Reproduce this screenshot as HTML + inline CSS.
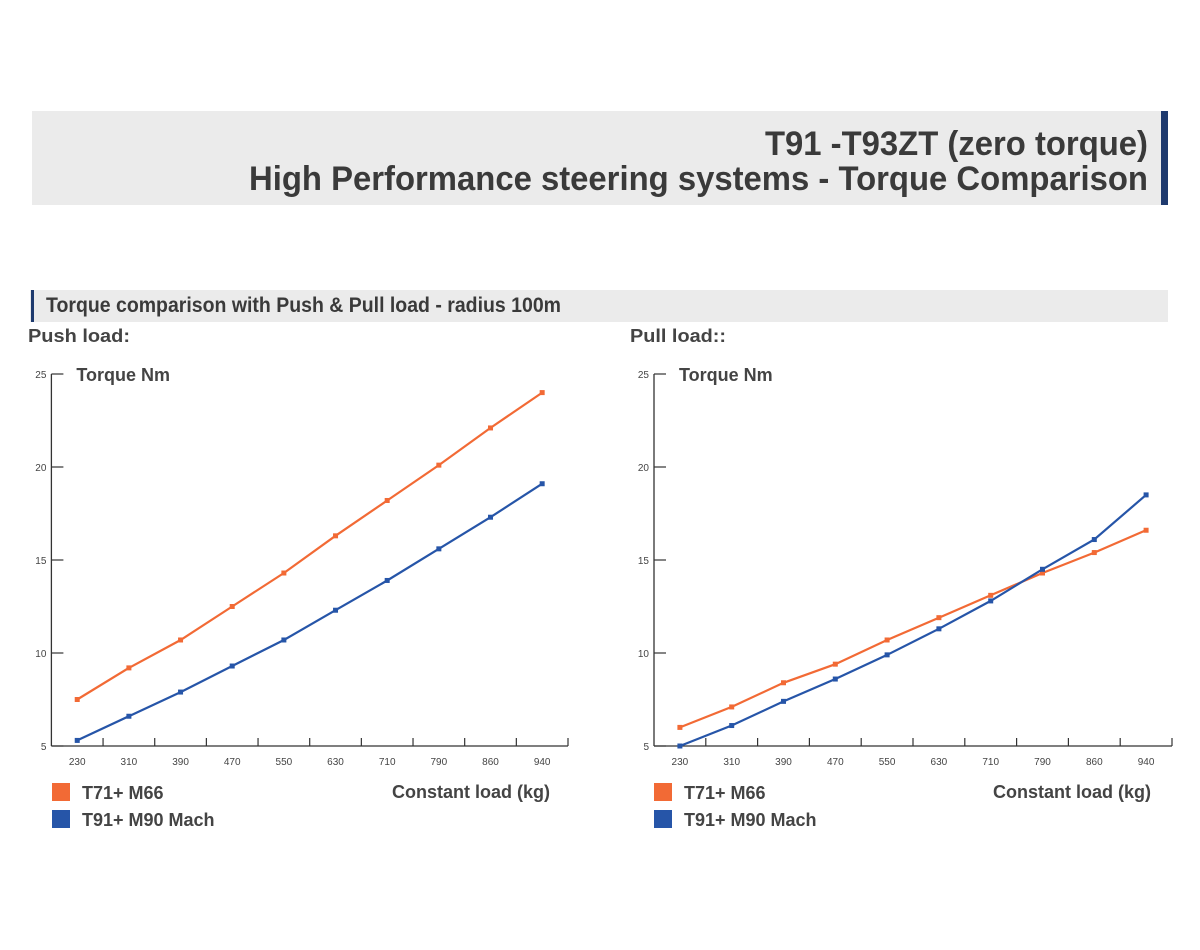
<!DOCTYPE html>
<html><head><meta charset="utf-8"><style>
body{margin:0;background:#fff;}
svg{display:block;font-family:"Liberation Sans",sans-serif;}
</style></head><body>
<svg id="page" width="1200" height="950" viewBox="0 0 1200 950">
  <rect x="32" y="111" width="1129" height="94" fill="#ebebeb"/>
  <rect x="1161" y="111" width="7" height="94" fill="#1e3a6e"/>
  <text x="1148" y="155" text-anchor="end" font-size="34" font-weight="bold" fill="#3a3a3a" textLength="383" lengthAdjust="spacingAndGlyphs">T91 -T93ZT (zero torque)</text>
  <text x="1148" y="190" text-anchor="end" font-size="34" font-weight="bold" fill="#3a3a3a" textLength="899" lengthAdjust="spacingAndGlyphs">High Performance steering systems - Torque Comparison</text>
  <rect x="30" y="290" width="1138" height="32" fill="#ebebeb"/>
  <rect x="31" y="290" width="3" height="32" fill="#1e3a6e"/>
  <text x="46" y="312" font-size="21" font-weight="bold" fill="#3a3a3a" textLength="515" lengthAdjust="spacingAndGlyphs">Torque comparison with Push &amp; Pull load - radius 100m</text>
  <text x="28" y="342" font-size="18" font-weight="bold" fill="#444" textLength="102" lengthAdjust="spacingAndGlyphs">Push load:</text>
  <text x="630" y="342" font-size="18" font-weight="bold" fill="#444" textLength="96" lengthAdjust="spacingAndGlyphs">Pull load::</text>
  <g id="chart-left"></g>
  <g id="chart-right"></g>
</svg>
<script>
const categories = ["230","310","390","470","550","630","710","790","860","940"];
const yTicks = [5,10,15,20,25];
const pushT71 = [7.5,9.2,10.7,12.5,14.3,16.3,18.2,20.1,22.1,24.0];
const pushT91 = [5.3,6.6,7.9,9.3,10.7,12.3,13.9,15.6,17.3,19.1];
const pullT71 = [6.0,7.1,8.4,9.4,10.7,11.9,13.1,14.3,15.4,16.6];
const pullT91 = [5.0,6.1,7.4,8.6,9.9,11.3,12.8,14.5,16.1,18.5];
const seriesNames = ["T71+ M66","T91+ M90 Mach"];

const NS="http://www.w3.org/2000/svg";
const ORANGE="#f26a35", BLUE="#2655a8", AXIS="#333";
function mk(parent,tag,attrs,text){
  const e=document.createElementNS(NS,tag);
  for(const k in attrs) e.setAttribute(k,attrs[k]);
  if(text!==undefined) e.textContent=text;
  parent.appendChild(e); return e;
}
function drawChart(gId,x0,x1,yTop,yBot,s1,s2,legendX,axisTitleRight){
  const g=document.getElementById(gId);
  const band=(x1-x0)/categories.length;
  const xs=i=>x0+band*(i+0.5);
  const ys=v=>yBot-(v-5)/(25-5)*(yBot-yTop);
  const ya=mk(g,'line',{x1:x0,y1:yTop,x2:x0,y2:yBot,stroke:AXIS,'stroke-width':1.3});
  
  
  const xa=mk(g,'line',{x1:x0,y1:yBot,x2:x1,y2:yBot,stroke:AXIS,'stroke-width':1.3});
  
  
  yTicks.forEach(v=>{
    const t=mk(g,'line',{x1:x0,y1:ys(v),x2:x0+12,y2:ys(v),stroke:AXIS,'stroke-width':1.2});
    
    
    const l=mk(g,'text',{x:x0-5,y:ys(v)+4,'text-anchor':'end','font-size':10,fill:'#444'},String(v));
    
    
  });
  categories.forEach((c,i)=>{
    const tx=x0+band*(i+1);
    const t=mk(g,'line',{x1:tx,y1:yBot,x2:tx,y2:yBot-8,stroke:AXIS,'stroke-width':1.2});
    
    
    const l=mk(g,'text',{x:xs(i),y:yBot+19,'text-anchor':'middle','font-size':10,fill:'#444'},c);
    
    
  });
  const yt=mk(g,'text',{x:x0+25,y:yTop+7,'font-size':18,'font-weight':'bold',fill:'#444'},'Torque Nm');
  
  
  const xt=mk(g,'text',{x:axisTitleRight,y:798,'text-anchor':'end','font-size':18,'font-weight':'bold',fill:'#444'},'Constant load (kg)');
  
  
  [[s1,ORANGE],[s2,BLUE]].forEach(([data,col],si)=>{
    const pts=data.map((v,i)=>xs(i).toFixed(1)+','+ys(v).toFixed(1)).join(' ');
    const pl=mk(g,'polyline',{points:pts,fill:'none',stroke:col,'stroke-width':2.2});
    
    
    data.forEach((v,i)=>{
      const m=mk(g,'rect',{x:xs(i)-2.5,y:ys(v)-2.5,width:5,height:5,fill:col});
      
      
    });
    const sq=mk(g,'rect',{x:legendX,y:783+si*27,width:18,height:18,fill:col});
    
    
    const lt=mk(g,'text',{x:legendX+30,y:799+si*27,'font-size':18,'font-weight':'bold',fill:'#444'},seriesNames[si]);
    
    
  });
}
drawChart('chart-left',51.4,568,374,746,pushT71,pushT91,52,550);
drawChart('chart-right',654,1172,374,746,pullT71,pullT91,654,1151);
</script>
</body></html>
